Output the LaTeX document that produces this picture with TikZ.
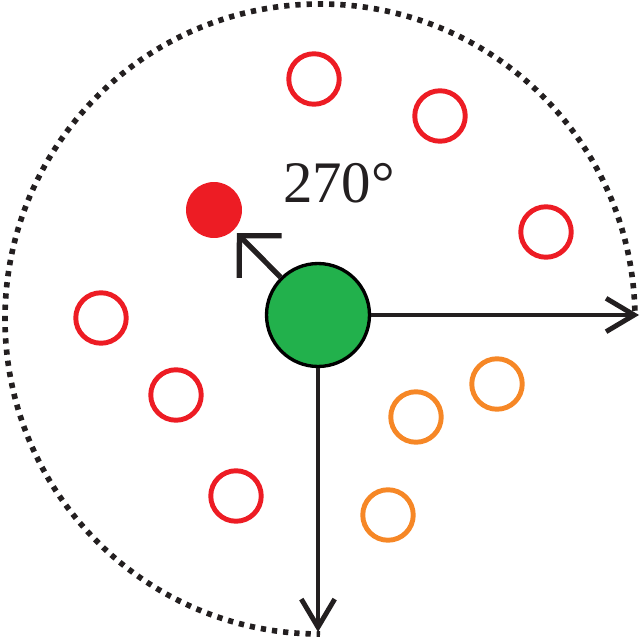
\documentclass[tikz,border=0pt]{standalone}
\usepackage{fontspec}
\setmainfont{Liberation Serif}
\usepackage{xcolor}
\usetikzlibrary{
  positioning,
  arrows.meta
}
\definecolor{dotred}{RGB}{237,28,36}
\definecolor{dotorange}{RGB}{246,135,38}
\definecolor{hubgreen}{RGB}{34,177,76}
\definecolor{inkblack}{RGB}{35,31,32}

\begin{document}
\begin{tikzpicture}[x=0.02cm,y=-0.02cm,
    ring/.style={circle,draw,line width=2.8pt,minimum size=1.01cm,inner sep=0pt},
    pointer/.style={draw=inkblack,line width=2.8pt,-{Straight Barb[length=16pt,width=19pt]}},
    bigpointer/.style={draw=inkblack,line width=3pt,-{Straight Barb[length=17pt,width=34pt]}}]

    \useasboundingbox (0,0) rectangle (641,641);

    % range of the sweep
    \draw[inkblack,line width=3.2pt,dash pattern=on 3pt off 3.4pt]
        (320,319) ++(-1.5:315) arc[start angle=-1.5,end angle=-270,radius=315];

    % red rings
    \node[ring,draw=dotred] (red1) at (314,79) {};
    \node[ring,draw=dotred] (red2) at (440,116) {};
    \node[ring,draw=dotred] (red3) at (546,232) {};
    \node[ring,draw=dotred] (red4) at (101,318) {};
    \node[ring,draw=dotred] (red5) at (176,395) {};
    \node[ring,draw=dotred] (red6) at (236,496) {};

    % orange rings
    \node[ring,draw=dotorange] (orange1) at (497,384) {};
    \node[ring,draw=dotorange] (orange2) at (416,417) {};
    \node[ring,draw=dotorange] (orange3) at (388,515) {};

    % chosen one
    \node[circle,fill=dotred,minimum size=1.12cm,inner sep=0pt] (target) at (214,210) {};

    \node[circle,draw=black,line width=1.9pt,fill=hubgreen,minimum size=2.06cm,inner sep=0pt] (hub) at (318,315) {};

    \coordinate (xend) at (639,315);
    \coordinate (yend) at (318,632);

    \draw[pointer] (hub) -- (xend);
    \draw[pointer] (hub) -- (yend);
    \draw[bigpointer,shorten >=2.3pt] (hub) -- (target);

    \node[font=\fontsize{33.5}{40}\selectfont,text=inkblack,anchor=base] (angle) at (339,203) {270°};
\end{tikzpicture}
\end{document}
